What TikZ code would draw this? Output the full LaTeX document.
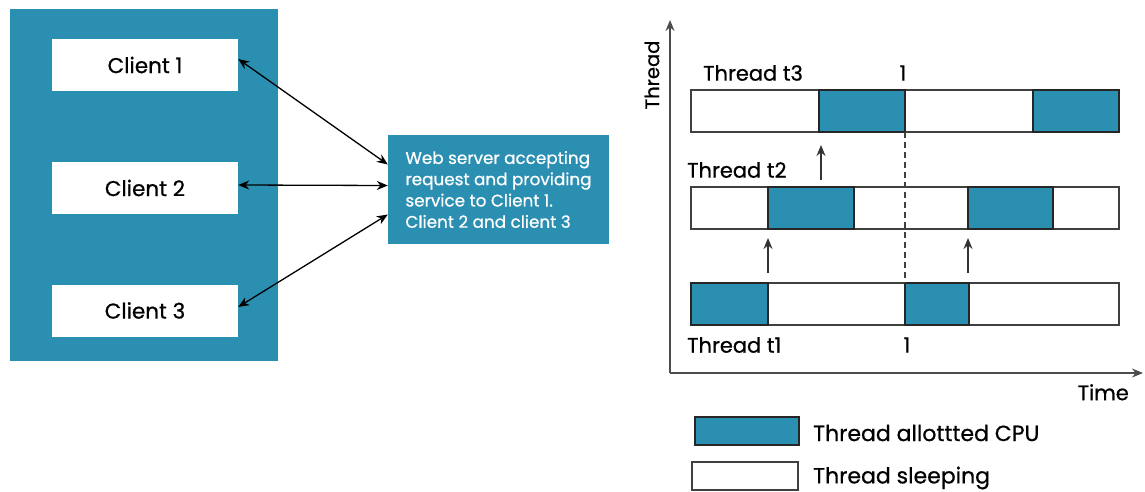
\documentclass[tikz,border=0pt]{standalone}
\usepackage{fontspec}
\setmainfont{Poppins}[FakeBold=0.7]
\usetikzlibrary{arrows.meta}
\definecolor{tblue}{RGB}{43,143,178}
\tikzset{
  client/.style={fill=white, minimum width=186pt, minimum height=52pt, inner sep=0pt, font=\fontsize{21.5}{24}\selectfont},
  lbl/.style={font=\fontsize{21}{24}\selectfont, inner sep=0pt},
  busy/.style={fill=tblue, draw=black!85, line width=1.4pt},
  idle/.style={fill=white, draw=black!75, line width=1.4pt},
  biarrow/.style={{Stealth[length=11pt,width=9pt]}-{Stealth[length=11pt,width=9pt]}, line width=1.3pt},
}
\begin{document}
\begin{tikzpicture}[x=1pt, y=-1pt]
    \useasboundingbox (0,0) rectangle (1145,492);
    % clients
    \fill[tblue] (10,9) rectangle (278,361);
    \node[client] (cl1) at (145,65) {Client 1};
    \node[client] (cl2) at (145,188) {Client 2};
    \node[client] (cl3) at (145,310.5) {Client 3};
    \node[fill=tblue, text=white, minimum width=221pt, minimum height=109pt, inner sep=0pt,
          align=left, font=\fontsize{16.8}{21.3}\selectfont] (srv) at (498.5,189.5)
      {Web server accepting\\request and providing\\service to Client 1.\\Client 2 and client 3};
    \draw[biarrow] ([yshift=6pt]cl1.east) -- ([yshift=25pt]srv.west);
    \draw[biarrow] ([yshift=3pt]cl2.east) -- ([yshift=4pt]srv.west);
    \draw[biarrow] ([yshift=3.5pt]cl3.east) -- ([yshift=-25pt]srv.west);

    % axes
    \draw[-{Stealth[length=11pt,width=9pt]}, line width=1.6pt, black!70] (670,373) -- (670,20);
    \draw[-{Stealth[length=11pt,width=9pt]}, line width=1.6pt, black!70] (670,373) -- (1143,373);
    \node[lbl, rotate=90, font=\fontsize{19.5}{22}\selectfont] (ylab) at (652,75) {Thread};
    \node[lbl, anchor=north east] (xlab) at (1129,384) {Time};

    % threads
    \foreach \y in {90,187,283}
      \draw[idle] (691,\y) rectangle (1119,\y+42);
    \foreach \a/\b/\y in {819/905/90, 1033/1119/90, 768/854/187, 968/1053/187, 691/768/283, 905/969/283}
      \draw[busy] (\a,\y) rectangle (\b,\y+42);
    \draw[dash pattern=on 6pt off 4pt, line width=1.2pt, black!75] (905,132) -- (905,283);
    \foreach \x/\y in {821/145, 768/238, 968/238}
      \draw[-{Stealth[length=11pt,width=9pt]}, line width=1.4pt, black!80] (\x,\y+35) -- (\x,\y);

    \node[lbl, anchor=west] (t3) at (703,73) {Thread t3};
    \node[lbl, anchor=west] (t2) at (687,170) {Thread t2};
    \node[lbl, anchor=west] (t1) at (687,345) {Thread t1};
    \node[lbl] (one3) at (903,73) {1};
    \node[lbl] (one1) at (907,345) {1};

    % legend
    \draw[busy] (695,417) rectangle (799,445);
    \draw[idle] (692,462) rectangle (798,490);
    \node[lbl, anchor=west, font=\fontsize{22}{24}\selectfont] (lbusy) at (813,433) {Thread allottted CPU};
    \node[lbl, anchor=west, font=\fontsize{22}{24}\selectfont] (lidle) at (813,478) {Thread sleeping};
\end{tikzpicture}
\end{document}
